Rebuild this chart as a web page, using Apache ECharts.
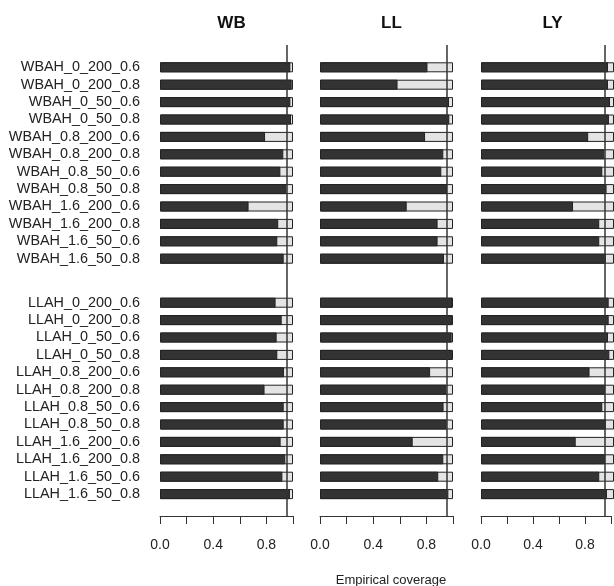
<!DOCTYPE html>
<html>
<head>
<meta charset="utf-8">
<script src="https://cdn.jsdelivr.net/npm/echarts@6/dist/echarts.min.js"></script>
<style>html,body{margin:0;padding:0;background:#fff}#c{width:614px;height:586px}</style>
</head>
<body>
<div id="c"></div>
<script>
const panels = ['WB', 'LL', 'LY'];
const wbahCats = ['WBAH_0_200_0.6','WBAH_0_200_0.8','WBAH_0_50_0.6','WBAH_0_50_0.8','WBAH_0.8_200_0.6','WBAH_0.8_200_0.8','WBAH_0.8_50_0.6','WBAH_0.8_50_0.8','WBAH_1.6_200_0.6','WBAH_1.6_200_0.8','WBAH_1.6_50_0.6','WBAH_1.6_50_0.8'];
const llahCats = ['LLAH_0_200_0.6','LLAH_0_200_0.8','LLAH_0_50_0.6','LLAH_0_50_0.8','LLAH_0.8_200_0.6','LLAH_0.8_200_0.8','LLAH_0.8_50_0.6','LLAH_0.8_50_0.8','LLAH_1.6_200_0.6','LLAH_1.6_200_0.8','LLAH_1.6_50_0.6','LLAH_1.6_50_0.8'];
const wbWBAH = [0.98,0.99,0.98,0.985,0.79,0.927,0.905,0.95,0.666,0.889,0.882,0.93];
const llWBAH = [0.808,0.583,0.97,0.972,0.79,0.927,0.912,0.955,0.652,0.884,0.884,0.932];
const lyWBAH = [0.955,0.955,0.97,0.962,0.806,0.927,0.912,0.944,0.692,0.889,0.889,0.939];
const wbLLAH = [0.869,0.915,0.877,0.882,0.932,0.786,0.93,0.93,0.907,0.942,0.92,0.977];
const llLLAH = [0.997,0.995,0.99,0.995,0.828,0.95,0.929,0.952,0.697,0.927,0.889,0.965];
const lyLLAH = [0.96,0.96,0.955,0.965,0.816,0.934,0.912,0.939,0.712,0.934,0.889,0.947];
const nominal = 0.95;
const xTicks = [0, 0.2, 0.4, 0.6, 0.8, 1.0];
const xLabelShown = [0, 0.4, 0.8];

const groupData = [[wbWBAH, wbLLAH],[llWBAH, llLLAH],[lyWBAH, lyLLAH]];
const cats = [wbahCats, llahCats];

const FONT = 'Liberation Sans, Arial, sans-serif';
const lefts = [160, 320, 481];
const W = 133;
const rowH = 17.4;
const groupTops = [58.6, 294];

const grid = [], xAxis = [], yAxis = [], series = [], title = [];
lefts.forEach((L, p) => {
  const gFull = grid.length;
  grid.push({left: L, top: 45, width: W, height: 471});
  xAxis.push({type:'value', gridIndex:gFull, min:0, max:1, interval:0.2,
    axisLine:{show:true, lineStyle:{color:'#333', width:1}},
    axisTick:{show:true, length:8, lineStyle:{color:'#333'}},
    splitLine:{show:false},
    axisLabel:{margin:22, fontSize:14, fontFamily:FONT, color:'#222',
      formatter: v => xLabelShown.some(t => Math.abs(t - v) < 1e-9) ? v.toFixed(1) : ''}});
  yAxis.push({type:'value', gridIndex:gFull, min:0, max:1, show:false});
  series.push({type:'line', xAxisIndex:gFull, yAxisIndex:gFull, data:[], z:20,
    markLine:{silent:true, symbol:'none', label:{show:false}, animation:false,
      lineStyle:{color:'#333', width:1.5, type:'solid'},
      data:[{xAxis: nominal}]}});
  title.push({text: panels[p], left: L + W/2, top: 10, textAlign:'center',
    textStyle:{fontSize:17, fontWeight:'bold', fontFamily:FONT, color:'#111'}});
  [0,1].forEach(g => {
    const gi = grid.length;
    const c = cats[g];
    grid.push({left: L, top: groupTops[g], width: W, height: rowH * c.length});
    xAxis.push({type:'value', gridIndex:gi, min:0, max:1, show:false});
    yAxis.push({type:'category', gridIndex:gi, data:c, inverse:true,
      axisLine:{show:false}, axisTick:{show:false},
      axisLabel:{show: p === 0, interval:0, margin:20, fontSize:14.4, fontFamily:FONT, color:'#222'}});
    const vals = groupData[p][g];
    series.push({type:'bar', xAxisIndex:gi, yAxisIndex:gi, barWidth:10, barGap:'-100%',
      data: vals.map(() => 1), z:2, silent:true,
      itemStyle:{color:'#e4e4e4', borderColor:'#222', borderWidth:1}});
    series.push({type:'bar', xAxisIndex:gi, yAxisIndex:gi, barWidth:10, barGap:'-100%',
      data: vals, z:3, silent:true,
      itemStyle:{color:'#333', borderColor:'#222', borderWidth:1}});
  });
});
title.push({text:'Empirical coverage', left: 386, top: 569, textAlign:'center',
  textStyle:{fontSize:13, fontWeight:'normal', fontFamily:FONT, color:'#222'}});

const chart = echarts.init(document.getElementById('c'), null, {renderer:'canvas'});
chart.setOption({animation:false, backgroundColor:'#fff', title, grid, xAxis, yAxis, series});
</script>
</body>
</html>
